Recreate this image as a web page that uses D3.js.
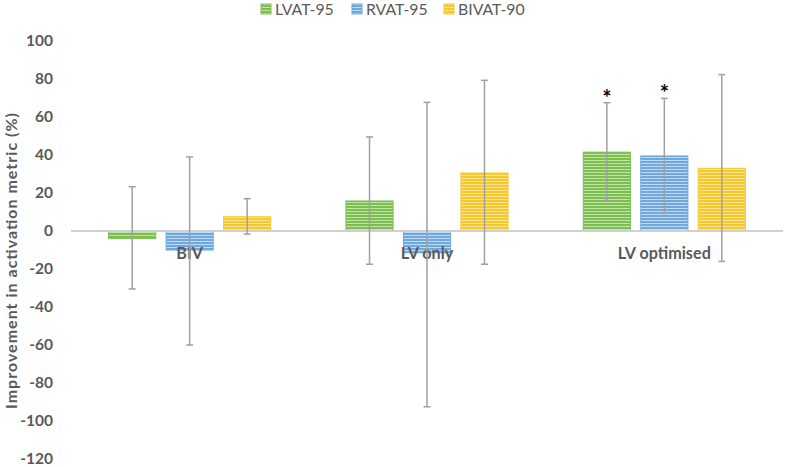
<!DOCTYPE html>
<html>
<head>
<meta charset="utf-8">
<script src="https://cdn.jsdelivr.net/npm/d3@7"></script>
<style>
  body { margin: 0; background: #fff; }
  text { font-family: Lato, "Open Sans", sans-serif; }
</style>
</head>
<body>
<div id="chart"></div>
<script>
// chart data
let categories = ["BIV", "LV only", "LV optimised"];
let seriesNames = ["LVAT-95", "RVAT-95", "BIVAT-90"];
let lvat95 = [-4, 15.8, 41.5];
let rvat95 = [-10, -11.5, 39.5];
let bivat90 = [7.5, 30.5, 33];
let lvat95Low = [-30.5, -17.5, 16];
let lvat95High = [23.3, 49.5, 67.5];
let rvat95Low = [-60, -92.5, 9.3];
let rvat95High = [39, 67.7, 69.8];
let bivat90Low = [-1.6, -17.5, -16];
let bivat90High = [17, 79.3, 82.3];
let significant = [[false, false, false], [false, false, false], [true, true, false]];
let yTicks = [100, 80, 60, 40, 20, 0, -20, -40, -60, -80, -100, -120];

let width = 785, height = 467;
let margin = {left: 71, right: 2, top: 41, bottom: 8};

// base colour, stripe colour
let colors = [["#7dbf4f", "#c4e2ae"], ["#6ea8de", "#c2daf2"], ["#f5c92c", "#fbe59c"]];

let values = [lvat95, rvat95, bivat90];
let lows = [lvat95Low, rvat95Low, bivat90Low];
let highs = [lvat95High, rvat95High, bivat90High];

let rows = [];
categories.forEach((c, ci) => {
    seriesNames.forEach((s, si) => {
        rows.push({cat: c, series: s, si: si, value: values[si][ci],
            low: lows[si][ci], high: highs[si][ci], sig: significant[ci][si]});
    });
});

let svg = d3.select("#chart")
    .append("svg")
    .attr("width", width)
    .attr("height", height);

// striped fills like the excel pattern
let defs = svg.append("defs");
colors.forEach((c, i) => {
    let p = defs.append("pattern")
        .attr("id", "stripe" + i)
        .attr("patternUnits", "userSpaceOnUse")
        .attr("width", 6)
        .attr("height", 3);
    p.append("rect").attr("width", 6).attr("height", 3).attr("fill", c[0]);
    p.append("rect").attr("y", 1).attr("width", 6).attr("height", 1).attr("fill", c[1]);
});

let x0 = d3.scaleBand()
    .domain(categories)
    .range([margin.left, width - margin.right])
    .paddingInner(0.317)
    .paddingOuter(0.1585);

let x1 = d3.scaleBand()
    .domain(seriesNames)
    .range([0, x0.bandwidth()])
    .paddingInner(0.18);

let y = d3.scaleLinear()
    .domain([-120, 100])
    .range([459, 41]);

// y tick labels (no gridlines)
svg.append("g")
    .selectAll("text")
    .data(yTicks)
    .join("text")
    .attr("x", 53)
    .attr("y", d => y(d))
    .attr("dy", "0.35em")
    .attr("text-anchor", "end")
    .attr("font-size", "15.5px")
    .attr("font-weight", "bold")
    .attr("fill", "#595959")
    .text(d => d);

// axis title
svg.append("text")
    .attr("transform", `translate(17,${261}) rotate(-90)`)
    .attr("text-anchor", "middle")
    .attr("font-size", "16px")
    .attr("font-weight", "bold")
    .attr("fill", "#595959")
    .attr("textLength", 296)
    .attr("lengthAdjust", "spacing")
    .text("Improvement in activation metric (%)");

// bars
svg.append("g")
    .selectAll("rect")
    .data(rows)
    .join("rect")
    .attr("x", d => x0(d.cat) + x1(d.series))
    .attr("y", d => y(Math.max(0, d.value)))
    .attr("width", x1.bandwidth())
    .attr("height", d => Math.abs(y(d.value) - y(0)))
    .attr("fill", d => `url(#stripe${d.si})`)
    .attr("stroke", d => colors[d.si][0])
    .attr("stroke-width", 1);

// zero line
svg.append("line")
    .attr("x1", margin.left)
    .attr("x2", width - margin.right)
    .attr("y1", y(0))
    .attr("y2", y(0))
    .attr("stroke", "#d0d0d0")
    .attr("stroke-width", 2);

// category labels sit on the axis
svg.append("g")
    .selectAll("text")
    .data(categories)
    .join("text")
    .attr("x", d => x0(d) + x0.bandwidth() / 2)
    .attr("y", 259)
    .attr("text-anchor", "middle")
    .attr("font-size", "16.2px")
    .attr("font-weight", "bold")
    .attr("fill", "#595959")
    .text(d => d);

// error bars
let err = svg.append("g")
    .attr("stroke", "#a0a0a0")
    .attr("stroke-width", 1.5);

rows.forEach(d => {
    let cx = x0(d.cat) + x1(d.series) + x1.bandwidth() / 2;
    err.append("line")
        .attr("x1", cx).attr("x2", cx)
        .attr("y1", y(d.high)).attr("y2", y(d.low));
    err.append("line")
        .attr("x1", cx - 3.5).attr("x2", cx + 3.5)
        .attr("y1", y(d.high)).attr("y2", y(d.high));
    err.append("line")
        .attr("x1", cx - 3.5).attr("x2", cx + 3.5)
        .attr("y1", y(d.low)).attr("y2", y(d.low));
});

// significance stars
svg.append("g")
    .selectAll("text")
    .data(rows.filter(d => d.sig))
    .join("text")
    .attr("x", d => x0(d.cat) + x1(d.series) + x1.bandwidth() / 2)
    .attr("y", d => y(d.high) + 3)
    .attr("text-anchor", "middle")
    .attr("font-size", "22px")
    .attr("font-weight", "bold")
    .attr("fill", "#000")
    .text("*");

// legend
let legendX = [261, 352, 444];
let legend = svg.append("g");
seriesNames.forEach((s, i) => {
    legend.append("rect")
        .attr("x", legendX[i])
        .attr("y", 4)
        .attr("width", 10)
        .attr("height", 10)
        .attr("fill", `url(#stripe${i})`)
        .attr("stroke", colors[i][0]);
    legend.append("text")
        .attr("x", legendX[i] + 14)
        .attr("y", 9)
        .attr("dy", "0.35em")
        .attr("font-size", "15.8px")
        .attr("fill", "#595959")
        .text(s);
});
</script>
</body>
</html>
